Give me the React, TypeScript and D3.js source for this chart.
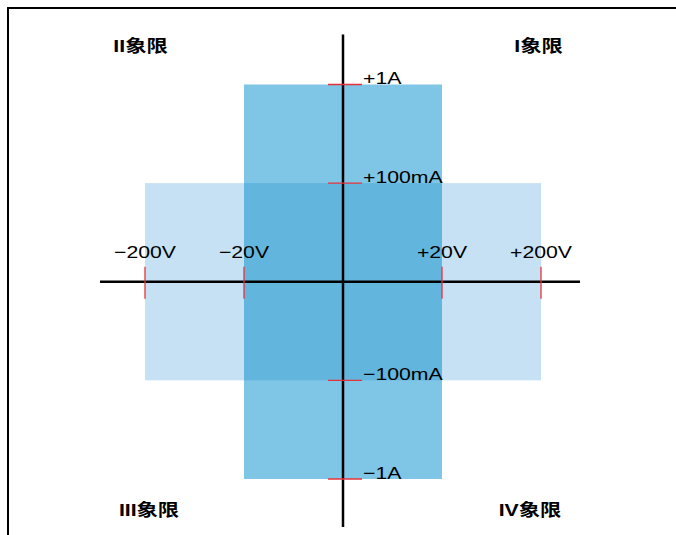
import React from "react";
import * as d3 from "d3";

// Data
const voltageValues = [-200, -20, 0, 20, 200];
const voltageLabels = ["−200V", "−20V", "", "+20V", "+200V"];
const currentValues = [1000, 100, 0, -100, -1000]; // mA, top to bottom
const currentLabels = ["+1A", "+100mA", "", "−100mA", "−1A"];

// operating regions: [vMin, vMax, iMin, iMax]
const regionNames = ["wide", "tall", "overlap"];
const regionV = [
  [-200, 200],
  [-20, 20],
  [-20, 20],
];
const regionI = [
  [-100, 100],
  [-1000, 1000],
  [-100, 100],
];
const regionColors = ["#c6e1f3", "#7fc5e6", "#62b6de"];

const quadrantLabels = ["I象限", "II象限", "III象限", "IV象限"];

const W = 676;
const H = 535;
const SX = 1.25; // horizontal text stretch

export default function App() {
  const x = d3.scalePoint<number>().domain(voltageValues).range([145, 541]);
  const y = d3.scalePoint<number>().domain(currentValues).range([84.5, 479]);
  const x0 = x(0)!;
  const y0 = y(0)!;

  const textFont = "'Liberation Sans', Arial, Helvetica, sans-serif";
  const cjkFont = "'Liberation Sans', 'Noto Sans CJK SC', sans-serif";

  const quadPos = [
    { x: 538.5, y: 52 },
    { x: 140.5, y: 52 },
    { x: 149, y: 516 },
    { x: 530, y: 516 },
  ];

  return (
    <svg
      width={W}
      height={H}
      style={{ position: "absolute", left: 0, top: 0, display: "block", background: "#fff" }}
    >
      {/* frame */}
      <line x1={8} y1={7} x2={8} y2={H} stroke="#000" strokeWidth={2} />
      <line x1={7} y1={8} x2={W} y2={8} stroke="#000" strokeWidth={2} />

      {/* regions */}
      {regionNames.map((n, i) => {
        const [v0, v1] = regionV[i];
        const [i0, i1] = regionI[i];
        const xa = x(v0)!, xb = x(v1)!;
        const ya = y(i1)!, yb = y(i0)!;
        return (
          <rect key={n} x={xa} y={ya} width={xb - xa} height={yb - ya} fill={regionColors[i]} />
        );
      })}

      {/* axes */}
      <line x1={x(-200)! - 45} x2={x(200)! + 39} y1={y0} y2={y0} stroke="#000" strokeWidth={2.5} />
      <line x1={x0} x2={x0} y1={y(1000)! - 50} y2={y(-1000)! + 48} stroke="#000" strokeWidth={2.5} />

      {/* voltage ticks */}
      {voltageValues.map((v, i) =>
        v === 0 ? null : (
          <g key={"v" + v}>
            <line x1={x(v)} x2={x(v)} y1={y0 - 15} y2={y0 + 17} stroke="#e8323a" strokeWidth={1.3} />
            <text
              transform={`translate(${x(v)},${y0 - 24}) scale(${SX},1)`}
              textAnchor="middle"
              fontFamily={textFont}
              fontSize={17}
              fill="#000"
            >
              {voltageLabels[i]}
            </text>
          </g>
        )
      )}

      {/* current ticks */}
      {currentValues.map((c, i) =>
        c === 0 ? null : (
          <g key={"c" + c}>
            <line x1={x0 - 15} x2={x0 + 19} y1={y(c)} y2={y(c)} stroke="#e8323a" strokeWidth={1.3} />
            <text
              transform={`translate(${x0 + 20},${y(c)! - 0.5}) scale(${SX},1)`}
              textAnchor="start"
              fontFamily={textFont}
              fontSize={17}
              fill="#000"
            >
              {currentLabels[i]}
            </text>
          </g>
        )
      )}

      {/* quadrant labels */}
      {quadrantLabels.map((q, i) => (
        <text
          key={q}
          transform={`translate(${quadPos[i].x},${quadPos[i].y}) scale(${SX},1)`}
          textAnchor="middle"
          fontFamily={cjkFont}
          fontWeight="bold"
          fontSize={17}
          fill="#000"
        >
          {q}
        </text>
      ))}
    </svg>
  );
}
